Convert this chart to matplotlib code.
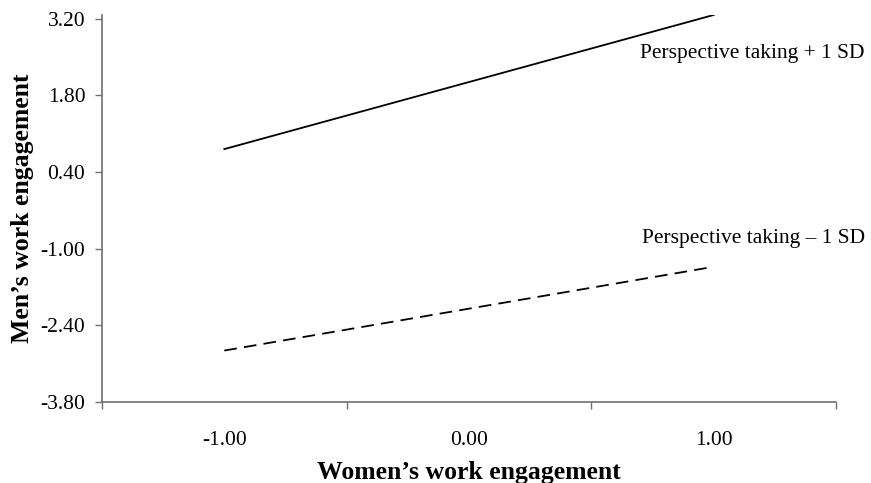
import matplotlib.pyplot as plt
from matplotlib.ticker import FixedLocator, NullFormatter

# simple slopes: men's engagement vs women's engagement at +/- 1 SD perspective taking
x_labels = ['-1.00', '0.00', '1.00']
x_low_high = [-1.0, 1.0]
high_pt = [0.82, 3.27]
low_pt = [-2.86, -1.33]
y_ticks = [-3.80, -2.40, -1.00, 0.40, 1.80, 3.20]

plt.rcParams['font.family'] = ['Liberation Serif', 'DejaVu Serif']

fig = plt.figure(figsize=(8.71, 4.83), dpi=100)
ax = fig.add_axes([0.1171, 0.1677, 0.8427, 0.8013])

# category positions: -1 -> 0, 0 -> 1, 1 -> 2
pos = [x_labels.index('%.2f' % v) for v in x_low_high]
ax.plot(pos, high_pt, color='black', lw=1.3)
ax.plot(pos, low_pt, color='black', lw=1.3, dashes=(7, 4))

fig.text(0.9931, 0.890, 'Perspective taking + 1 SD', fontsize=15.5, ha='right', va='center')
fig.text(0.9931, 0.507, 'Perspective taking \u2013 1 SD', fontsize=15.5, ha='right', va='center')

ax.set_xlim(-0.5, 2.5)
ax.set_ylim(-3.80, 3.27)

ax.xaxis.set_major_locator(FixedLocator([-0.5, 0.5, 1.5, 2.5]))
ax.xaxis.set_major_formatter(NullFormatter())
ax.xaxis.set_minor_locator(FixedLocator([0, 1, 2]))
ax.set_xticklabels(x_labels, minor=True)
ax.tick_params(axis='x', which='major', direction='out', length=5, width=1, color='#707070')
ax.tick_params(axis='x', which='minor', length=0, pad=21, labelsize=15.5)

ax.set_yticks(y_ticks)
ax.set_yticklabels(['%.2f' % v for v in y_ticks])
ax.tick_params(axis='y', direction='out', length=5, width=1, color='#707070', pad=7, labelsize=15.5)

for side in ['top', 'right']:
    ax.spines[side].set_visible(False)
for side in ['left', 'bottom']:
    ax.spines[side].set_color('#707070')
    ax.spines[side].set_linewidth(1.2)

ax.set_xlabel('Women\u2019s work engagement', fontsize=18.5, fontweight='bold', labelpad=8)
ax.set_ylabel('Men\u2019s work engagement', fontsize=18.5, fontweight='bold', labelpad=5)

fig.savefig('out.png', dpi=100)
